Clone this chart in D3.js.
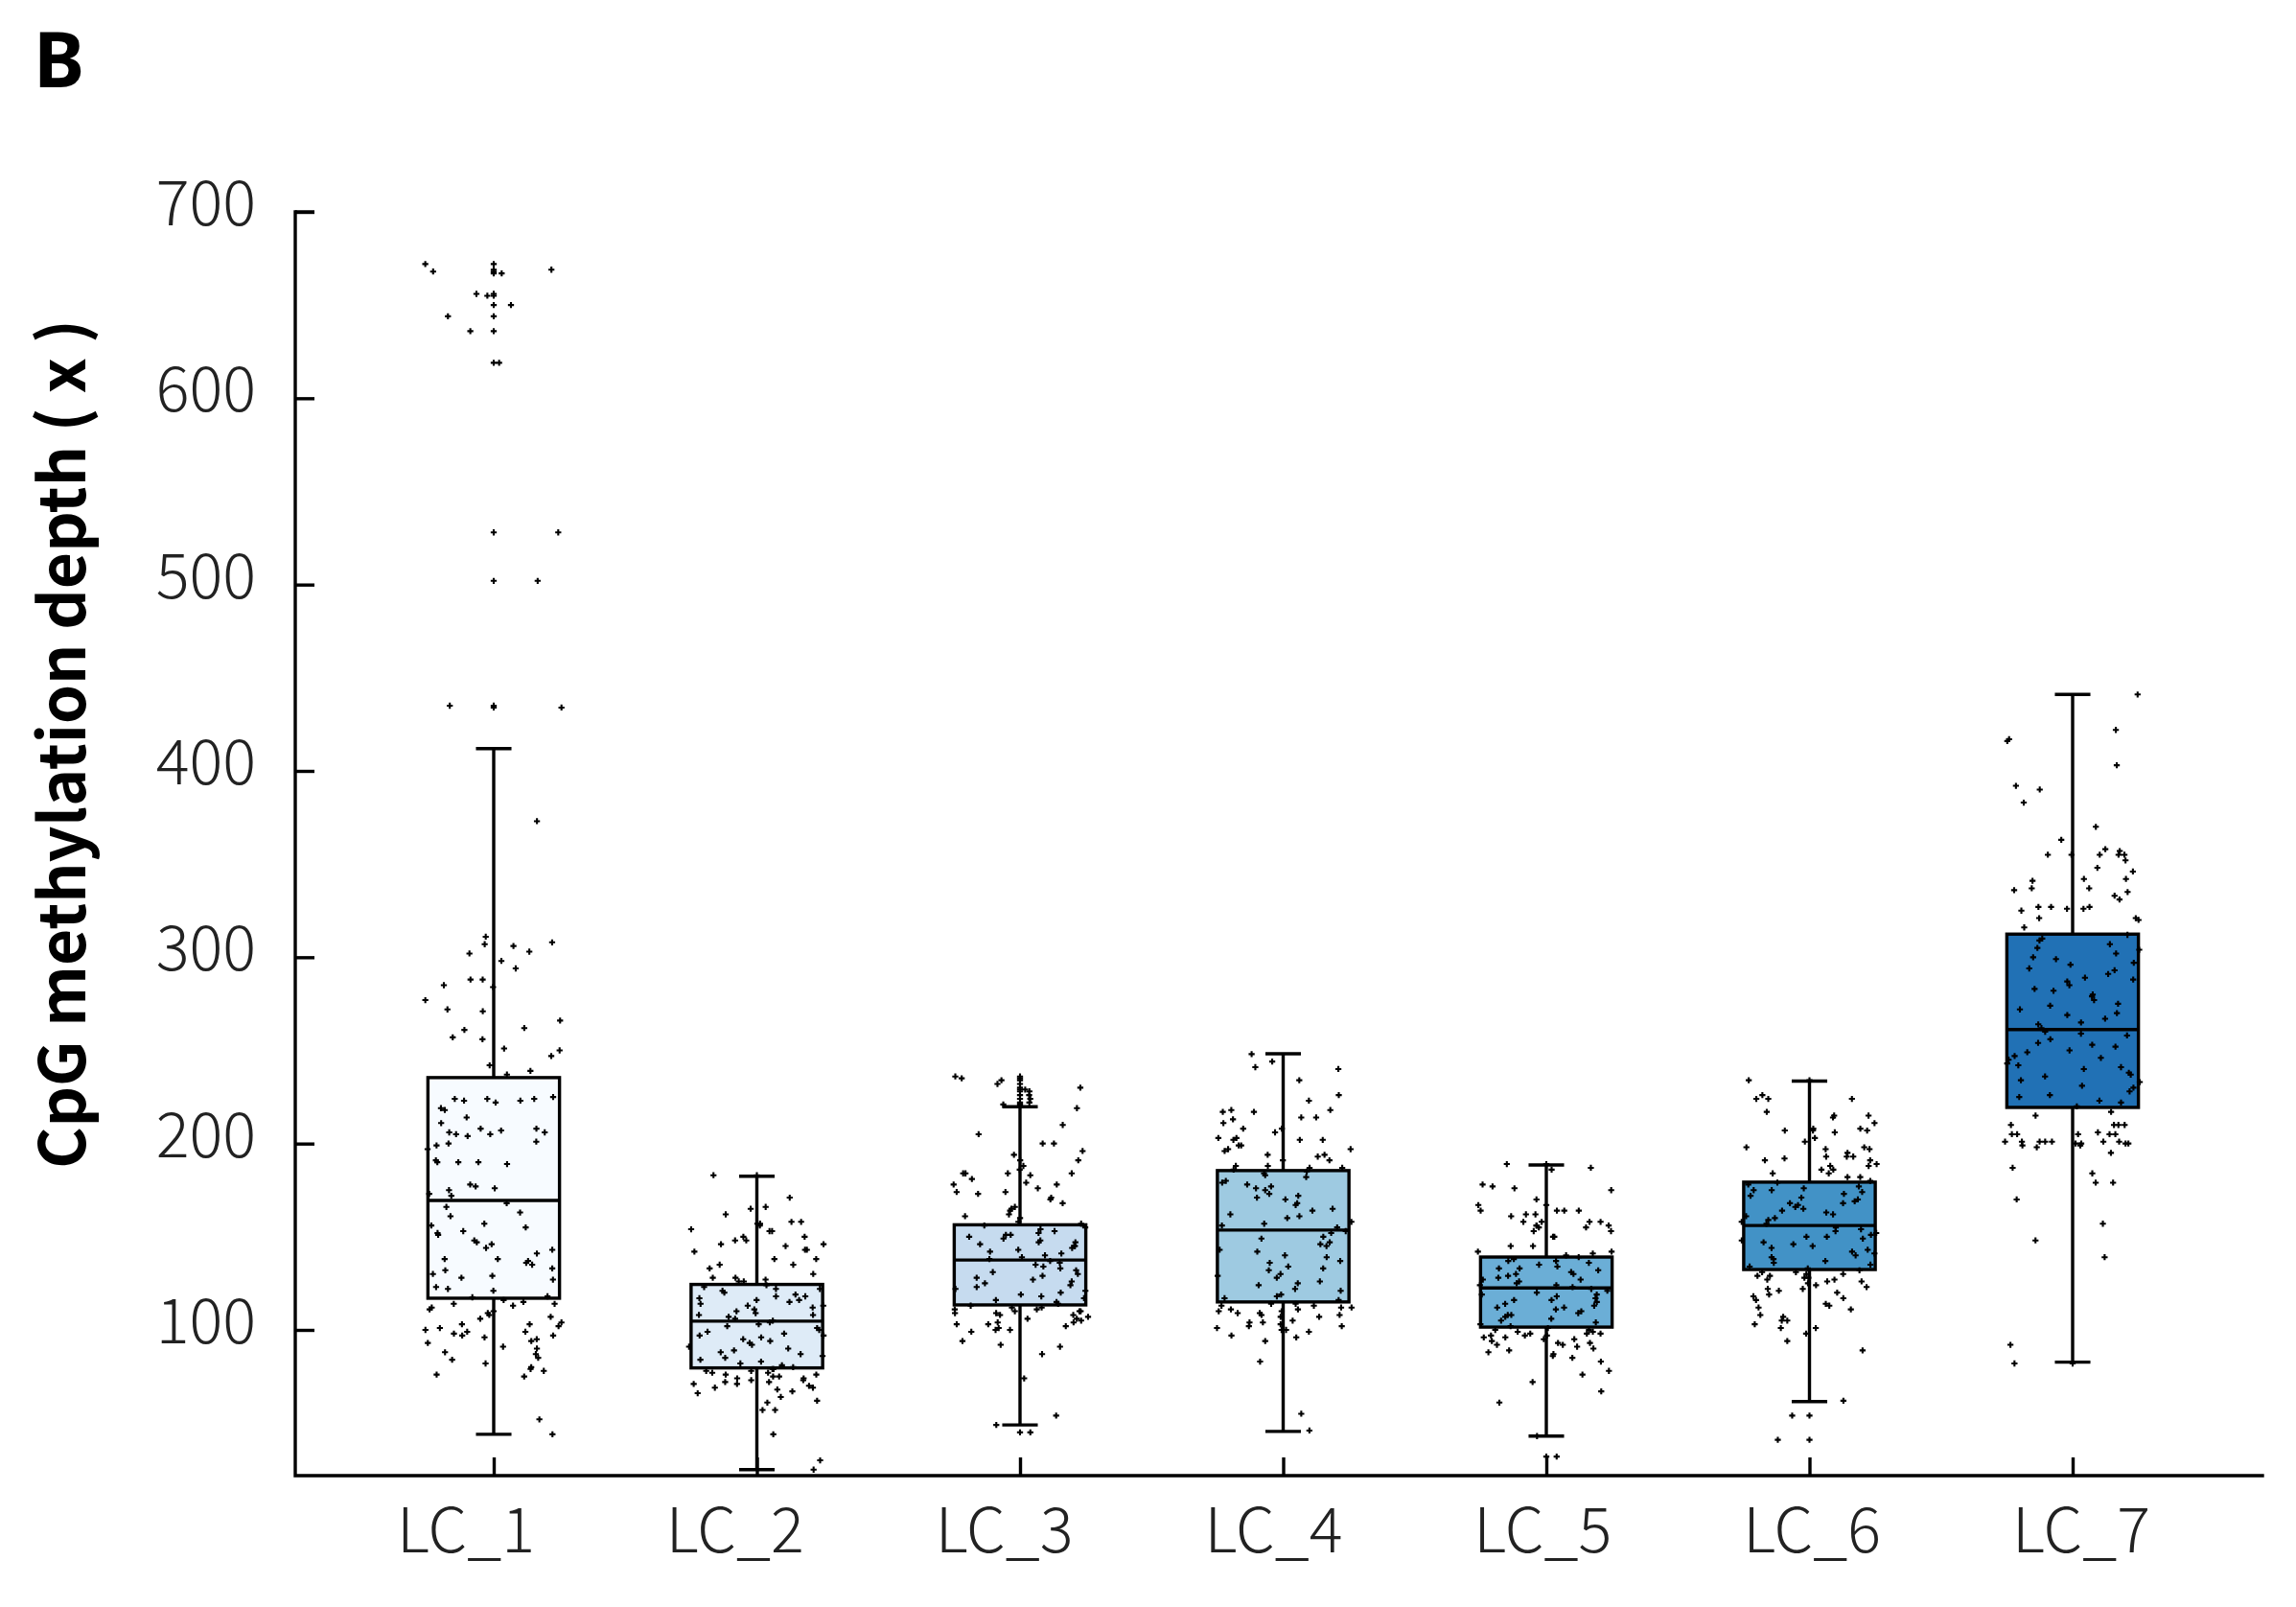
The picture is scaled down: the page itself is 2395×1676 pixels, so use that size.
<!DOCTYPE html>
<html>
<head>
<meta charset="utf-8">
<script src="https://cdn.jsdelivr.net/npm/d3@7"></script>
<style>
  html, body { margin: 0; padding: 0; background: #ffffff; }
  svg { display: block; }
</style>
</head>
<body>
<svg id="chart" width="2395" height="1676"></svg>
<script>
// ---------------- DATA ----------------
const categories = ["LC_1", "LC_2", "LC_3", "LC_4", "LC_5", "LC_6", "LC_7"];
const yTicks = [100, 200, 300, 400, 500, 600, 700];

// box statistics
const q1 = [117, 79.6, 113.4, 115, 101.5, 132.4, 219.4];
const medians = [169.5, 104.7, 137.5, 153.6, 122.5, 156, 261.2];
const q3 = [235.4, 124.4, 156.4, 185.5, 139.1, 179.3, 312.4];
const whiskerLow = [44, 25, 49, 45.5, 43, 61.5, 82.7];
const whiskerHigh = [412, 182.5, 219.8, 248.2, 188.5, 233.5, 441];

// individual sample values (estimated from the scattered dots)
const lc1 = [672, 669, 668, 667, 656, 655, 650, 644, 636, 619, 528, 502, 435, 434,
  373, 311, 308, 307, 306, 302, 303, 298, 294, 288, 285, 288, 284, 277, 272, 271, 266, 262, 261, 256, 257, 251, 250, 247, 242, 239, 237,
  225, 224, 224, 223, 224, 223, 222, 218, 219, 214, 211, 208, 207, 208, 206, 205, 205, 204, 206, 200, 199, 201, 197, 190, 191, 189, 190, 190, 178, 177, 176, 175, 173, 172,
  168, 166, 163, 161, 156, 155, 157, 152, 153, 151, 147, 146, 148, 144, 143, 141, 138, 138, 136, 135, 137, 133, 132, 130, 129, 128, 127, 123, 122, 121, 118, 117.5,
  116, 115, 114, 114, 113, 112, 111, 110, 109, 108, 107, 106, 104, 103, 103, 102, 101, 100, 99, 99, 98, 97, 97, 96, 95, 94, 93, 91, 90, 88, 87, 85, 84, 82, 80, 79, 78, 76, 75, 52, 44];
const lc2 = [183, 171, 166, 165, 162, 158, 158, 157, 157, 156, 154, 153, 153, 150, 150, 148, 148, 146, 146, 145, 143, 143, 142, 138, 138, 135, 135, 133, 130, 128, 128, 127, 126, 126,
  124, 123, 122, 122, 121, 120, 119, 118, 118, 117, 116, 116, 115, 114, 113, 113, 112, 111, 110, 109, 108, 108, 107, 106, 105,
  104, 103, 102, 101, 100, 99, 98, 97, 97, 96, 95, 94, 93, 92, 91, 90, 89, 88, 87, 86, 85, 84, 83, 82, 81, 80,
  79, 79, 78, 78, 77, 77, 76, 76, 75, 75, 74, 74, 73, 73, 72, 72, 71, 71, 70, 69, 69, 68, 67, 66, 64, 62, 61, 57, 57, 44, 30, 25];
const lc3 = [236, 235, 234, 232, 230, 229, 228, 226, 224, 222, 221,
  219, 210, 205, 200, 200, 196, 194, 191, 191, 188, 186, 184, 184, 184, 184, 183, 181, 179, 178, 178, 176, 174, 174, 173, 171, 170, 168, 166, 165, 164, 162, 161, 160, 158, 157,
  156, 155, 154, 153, 152, 151, 151, 150, 149, 148, 147, 147, 146, 145, 145, 144, 143, 142, 141, 140, 139, 138,
  137, 136, 135, 134, 133, 132, 131, 130, 129, 128, 127, 126, 125, 124, 123, 122, 121, 120, 119, 118, 117, 116, 115, 114,
  113, 112, 112, 111, 111, 110, 110, 110, 109, 109, 108, 108, 107, 106, 106, 105, 104, 104, 103, 103, 102, 101, 100, 100, 99, 94, 92, 91, 87, 74, 54, 49, 45];
const lc4 = [248, 244, 241, 240, 234, 226, 223, 218, 218, 217, 217, 214, 214, 213, 211, 208, 208, 206, 203, 203, 202, 202, 202, 199, 199, 197, 197, 196, 194, 194, 193, 191, 191, 188, 188, 187, 187, 186,
  185, 184, 183, 182, 180, 179, 178, 177, 176, 175, 173, 172, 171, 170, 168, 167, 165, 164, 162, 161, 160, 158, 157, 156, 155,
  153, 152, 150, 149, 147, 146, 145, 143, 142, 140, 139, 137, 136, 134, 133, 132, 130, 129, 128, 126, 125, 124, 122, 121, 119, 118, 117, 116,
  114, 114, 113, 113, 112, 112, 111, 111, 110, 110, 109, 109, 108, 108, 107, 107, 105, 104, 104, 103, 102, 102, 101, 100, 100, 99, 97, 96, 94, 83, 55, 46];
const lc5 = [189, 187, 186, 178, 177, 176, 175, 170, 167, 167, 164, 164, 164, 164, 162, 162, 161, 158, 158, 158, 158, 156, 156, 156, 155, 155, 153, 153, 150, 150, 145, 145, 142, 142, 141, 140,
  139, 138, 137, 137, 136, 135, 134, 133, 133, 132, 131, 130, 130, 129, 128, 127, 127, 126, 125, 124, 124, 123,
  122, 121, 120, 119, 119, 118, 117, 116, 116, 115, 114, 113, 112, 112, 111, 110, 109, 108, 108, 107, 106, 105, 104, 103, 102,
  101, 100, 100, 99, 99, 98, 98, 98, 97, 97, 97, 96, 96, 95, 95, 94, 93, 93, 92, 92, 91, 90, 89, 88, 87, 86, 85, 83, 78, 76, 72, 67, 61, 43, 32];
const lc6 = [234, 226, 224, 224, 224, 217, 215, 215, 214, 211, 208, 208, 207, 207, 207, 206, 203, 201, 198, 198, 197, 197, 195, 193, 193, 193, 192, 191, 191, 189, 188, 188, 186, 186, 184, 184, 182, 182, 180,
  179, 178, 177, 176, 175, 175, 174, 173, 172, 171, 170, 169, 168, 168, 167, 166, 165, 164, 163, 162, 161, 160, 159, 158, 157,
  155, 154, 153, 152, 151, 150, 150, 149, 148, 147, 146, 145, 144, 143, 142, 141, 140, 139, 138, 137, 136, 135, 134, 133,
  132, 131, 131, 130, 130, 129, 129, 128, 128, 127, 127, 126, 126, 125, 124, 123, 122, 122, 121, 120, 119, 118, 117, 116, 114, 113, 112, 111, 108, 107, 105, 105, 103, 101, 101, 98, 94, 89, 62, 54, 41];
const lc7 = [441, 422, 417, 416, 403, 392, 390, 383, 370, 363, 358, 357, 355, 355, 355, 355, 355, 352, 348, 346, 342, 342, 341, 337, 337, 336, 335, 333, 331, 327, 327, 327, 326, 326, 325, 321, 321, 320, 316,
  312, 310, 309, 307, 305, 304, 302, 300, 299, 297, 296, 294, 293, 291, 289, 288, 287, 285, 283, 282, 280, 279, 277, 275, 274, 272, 270, 269, 267, 265, 264, 262,
  260, 259, 258, 256, 254, 253, 252, 250, 249, 247, 246, 245, 243, 242, 241, 240, 238, 237, 236, 234, 233, 231, 230, 228, 226, 225, 223, 222, 220,
  217, 215, 210, 210, 210, 210, 206, 205, 205, 205, 205, 205, 201, 201, 201, 201, 201, 201, 201, 200, 200, 200, 200, 199, 199, 198, 195, 187, 184, 179, 179, 170, 157, 148, 139, 92, 82];
const samples = [lc1, lc2, lc3, lc4, lc5, lc6, lc7];

const boxColors = ["#f7fbff", "#deebf7", "#c6dbef", "#9ecae1", "#6baed6", "#4292c6", "#2171b5"];

// ---------------- LAYOUT ----------------
const FONT = "'Noto Sans CJK SC', 'Noto Sans', sans-serif";
const svg = d3.select("#chart");

const plot = { left: 308, right: 2360, top: 221, bottom: 1539 };
const LW = 3.4;

const y = d3.scaleLinear().domain([100, 700]).range([1387, 221]);
const x = d3.scalePoint().domain(categories).range([515, 2162]);
const labelX = d3.scalePoint().domain(categories).range([486, 2171]);
const step = x.step();
const boxW = step * 0.5;
const capW = step * 0.135;
const jitterW = step * 0.52;

// panel letter
svg.append("text")
  .attr("x", 35).attr("y", 91)
  .attr("font-family", "'Noto Sans', sans-serif").attr("font-weight", 700)
  .attr("font-size", 80).attr("fill", "#000")
  .text("B");

// y axis title
svg.append("text")
  .attr("transform", `translate(89, 776) rotate(-90)`)
  .attr("text-anchor", "middle")
  .attr("font-family", FONT).attr("font-weight", 700)
  .attr("font-size", 66).attr("fill", "#000")
  .text("CpG methylation depth ( x )");

// y axis
const yAxis = svg.append("g")
  .attr("transform", `translate(${plot.left},0)`)
  .call(d3.axisRight(y).tickValues(yTicks).tickSize(20).tickFormat(""));
yAxis.select(".domain").remove();
yAxis.selectAll(".tick line").attr("stroke", "#000").attr("stroke-width", LW);

svg.append("g").selectAll("text")
  .data(yTicks).join("text")
  .attr("x", 267).attr("y", d => y(d) + 14)
  .attr("text-anchor", "end")
  .attr("font-family", FONT).attr("font-weight", 300)
  .attr("font-size", 65).attr("fill", "#222")
  .text(d => d);

// x axis
const xAxis = svg.append("g")
  .attr("transform", `translate(0,${plot.bottom})`)
  .call(d3.axisTop(x).tickSize(19).tickFormat(""));
xAxis.select(".domain").remove();
xAxis.selectAll(".tick line").attr("stroke", "#000").attr("stroke-width", LW);

svg.append("g").selectAll("text")
  .data(categories).join("text")
  .attr("x", d => labelX(d)).attr("y", 1619)
  .attr("text-anchor", "middle")
  .attr("font-family", FONT).attr("font-weight", 300)
  .attr("font-size", 65).attr("fill", "#222")
  .text(d => d);

// axis lines
svg.append("path")
  .attr("d", `M${plot.left},${plot.top}V${plot.bottom}H${plot.right}`)
  .attr("fill", "none").attr("stroke", "#000").attr("stroke-width", LW)
  .attr("stroke-linecap", "square");
svg.append("line")
  .attr("x1", plot.left).attr("x2", plot.left + 20)
  .attr("y1", plot.top).attr("y2", plot.top)
  .attr("stroke", "#000").attr("stroke-width", LW);

// boxes
const groups = svg.append("g").selectAll("g")
  .data(categories).join("g")
  .attr("transform", d => `translate(${x(d)},0)`);

groups.append("line")
  .attr("x1", 0).attr("x2", 0)
  .attr("y1", (d, i) => y(whiskerHigh[i])).attr("y2", (d, i) => y(whiskerLow[i]))
  .attr("stroke", "#000").attr("stroke-width", LW);
groups.append("line")
  .attr("x1", -capW / 2).attr("x2", capW / 2)
  .attr("y1", (d, i) => y(whiskerHigh[i])).attr("y2", (d, i) => y(whiskerHigh[i]))
  .attr("stroke", "#000").attr("stroke-width", LW);
groups.append("line")
  .attr("x1", -capW / 2).attr("x2", capW / 2)
  .attr("y1", (d, i) => y(whiskerLow[i])).attr("y2", (d, i) => y(whiskerLow[i]))
  .attr("stroke", "#000").attr("stroke-width", LW);
groups.append("rect")
  .attr("x", -boxW / 2).attr("width", boxW)
  .attr("y", (d, i) => y(q3[i])).attr("height", (d, i) => y(q1[i]) - y(q3[i]))
  .attr("fill", (d, i) => boxColors[i])
  .attr("stroke", "#000").attr("stroke-width", LW);
groups.append("line")
  .attr("x1", -boxW / 2).attr("x2", boxW / 2)
  .attr("y1", (d, i) => y(medians[i])).attr("y2", (d, i) => y(medians[i]))
  .attr("stroke", "#000").attr("stroke-width", LW);

// deterministic jitter (placement only, not data)
function jitter(i, gi) {
  const s = Math.sin(i * 12.9898 + gi * 78.233) * 43758.5453;
  return s - Math.floor(s);
}

// dots: outliers on the centre line, plus every sample jittered
const cross = d3.symbol().type(d3.symbolCross).size(22);
groups.each(function (cat, gi) {
  const g = d3.select(this);
  const vals = samples[gi];
  const outl = vals.filter(v => v > whiskerHigh[gi] || v < whiskerLow[gi]);
  g.selectAll("path.out").data(outl).join("path")
    .attr("class", "out")
    .attr("d", cross)
    .attr("transform", v => `translate(0,${y(v)})`)
    .attr("fill", "#000");
  g.selectAll("path.pt").data(vals).join("path")
    .attr("class", "pt")
    .attr("d", cross)
    .attr("transform", (v, i) => `translate(${(jitter(i, gi) - 0.5) * jitterW},${y(v)})`)
    .attr("fill", "#000");
});
</script>
</body>
</html>
